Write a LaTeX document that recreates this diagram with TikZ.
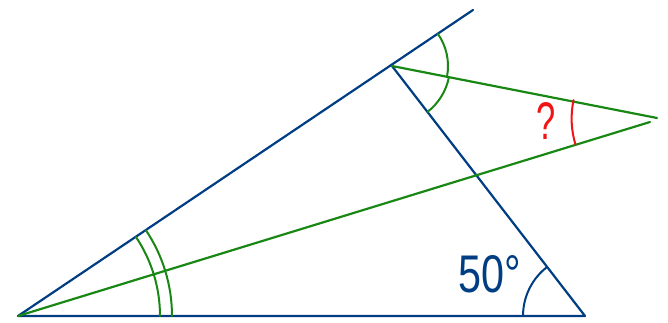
\documentclass[tikz,border=0pt]{standalone}
\usepackage{fontspec}
\setsansfont{Liberation Sans}
\usetikzlibrary{calc}
\definecolor{sideblue}{RGB}{0,61,130}
\definecolor{cutgreen}{RGB}{25,135,20}
\definecolor{askred}{RGB}{240,20,20}
\tikzset{
  sideln/.style={line width=2.2pt, sideblue, line cap=round, line join=round},
  cutln/.style={line width=2.2pt, cutgreen, line cap=round},
  arcln/.style={line width=2pt, line cap=round},
  handlab/.style={font=\sffamily\fontsize{53}{53}\selectfont, inner sep=0pt, anchor=base west},
}

\begin{document}
\begin{tikzpicture}[x=1pt,y=1pt]
  \useasboundingbox (0,0) rectangle (668,323);
  % corners of the triangle
  \coordinate (A) at (18,7);
  \coordinate (C) at (585,7);
  \coordinate (B) at (392,257);
  \coordinate (P) at (473,313);
  % ends of the green lines and where they would meet
  \coordinate (E) at (657,205);
  \coordinate (F) at (650,201);
  \coordinate (G) at (660.6,204.4);
  \draw[sideln] (A) -- (C) -- (B);
  \draw[sideln] (A) -- (P);
  \draw[cutln] (B) -- (E);
  \draw[cutln] (A) -- (F);
  % angle marks
  \draw[arcln, cutgreen] ([shift={(0:142)}]A) arc[start angle=0, end angle=33.8, radius=142];
  \draw[arcln, cutgreen] ([shift={(0:154)}]A) arc[start angle=0, end angle=33.8, radius=154];
  \draw[arcln, cutgreen] ([shift={(35:56)}]B) arc[start angle=35, end angle=-10, radius=56];
  \draw[arcln, cutgreen] ([shift={(-12:58)}]B) arc[start angle=-12, end angle=-52.3, radius=58];
  \draw[arcln, sideblue] ([shift={(127.7:62)}]C) arc[start angle=127.7, end angle=180, radius=62];
  \draw[arcln, askred] ([shift={(168:89)}]G) arc[start angle=168, end angle=197, radius=89];
  % labels
  \node[handlab, sideblue, xscale=0.78] (deg) at (458,30) {50°};
  \node[handlab, askred, xscale=0.65] (ask) at (536,183) {?};
\end{tikzpicture}
\end{document}
